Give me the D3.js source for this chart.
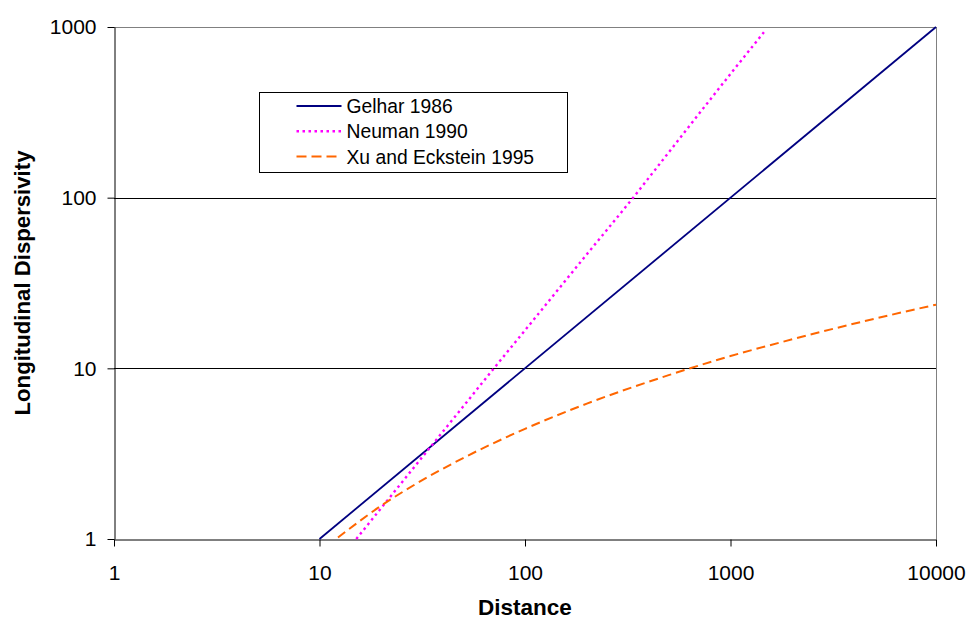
<!DOCTYPE html>
<html>
<head>
<meta charset="utf-8" />
<script src="https://cdn.jsdelivr.net/npm/d3@7"></script>
<style>
  body { margin: 0; background: #fff; }
  text { font-family: "Liberation Sans", Arial, sans-serif; fill: #000; }
</style>
</head>
<body>
<div id="chart"></div>
<script>
// Tick labels
var xTicks = [1, 10, 100, 1000, 10000];
var yTicks = [1, 10, 100, 1000];

// Gelhar 1986
var gelharDist = [10, 10000];
var gelharDisp = [1, 1000];

// Neuman 1990
var neumanDist = [15.1, 30, 50, 70.6, 100, 200, 336, 500, 1000, 1460];
var neumanDisp = [1.0, 2.79, 5.97, 10, 16.7, 46.6, 100, 184, 531, 937];

// Xu and Eckstein 1995
var xuDist = [12.3, 20, 30, 50, 100, 200, 500, 1000, 2000, 5000, 10000];
var xuDisp = [1.02, 1.57, 2.13, 2.98, 4.42, 6.21, 9.12, 11.8, 14.8, 19.5, 23.6];

var seriesNames = ["Gelhar 1986", "Neuman 1990", "Xu and Eckstein 1995"];

var width = 969, height = 619;
var plotL = 114, plotR = 936, plotT = 27, plotB = 539;

var x = d3.scaleLog().domain([1, 10000]).range([plotL, plotR]);
var y = d3.scaleLog().domain([1, 1000]).range([plotB, plotT]);

var svg = d3.select('#chart')
    .append('svg')
    .attr('width', width)
    .attr('height', height);

// gridlines
svg.append('g')
    .selectAll('line')
    .data([10, 100])
    .enter()
    .append('line')
    .attr('x1', plotL).attr('x2', plotR)
    .attr('y1', function (d) { return Math.round(y(d)) + 0.5; })
    .attr('y2', function (d) { return Math.round(y(d)) + 0.5; })
    .attr('stroke', '#000')
    .attr('stroke-width', 1);

// frame: top and right are gray
svg.append('line')
    .attr('x1', plotL).attr('x2', plotR + 0.5)
    .attr('y1', plotT + 0.5).attr('y2', plotT + 0.5)
    .attr('stroke', '#808080');
svg.append('line')
    .attr('x1', plotR + 0.5).attr('x2', plotR + 0.5)
    .attr('y1', plotT).attr('y2', plotB)
    .attr('stroke', '#808080');

// axes
var xAxis = d3.axisBottom(x)
    .tickValues(xTicks)
    .tickFormat(d3.format('d'))
    .tickSizeInner(7)
    .tickSizeOuter(0)
    .tickPadding(19);

var yAxis = d3.axisLeft(y)
    .tickValues(yTicks)
    .tickFormat(d3.format('d'))
    .tickSizeInner(7)
    .tickSizeOuter(0)
    .tickPadding(11);

var gx = svg.append('g')
    .attr('transform', 'translate(0,' + (plotB + 0.5) + ')')
    .call(xAxis);
var gy = svg.append('g')
    .attr('transform', 'translate(' + (plotL + 0.5) + ',0)')
    .call(yAxis);

[gx, gy].forEach(function (g) {
    g.attr('font-family', '"Liberation Sans", Arial, sans-serif').attr('font-size', 21);
    g.selectAll('path.domain').attr('stroke', '#000').attr('stroke-width', 1);
    g.selectAll('.tick line').attr('stroke', '#000');
    g.selectAll('.tick text').attr('fill', '#000');
});

// series lines
var line = d3.line()
    .x(function (d) { return x(d[0]); })
    .y(function (d) { return y(d[1]); })
    .curve(d3.curveMonotoneX);

var series = [
    { name: seriesNames[0], pts: d3.zip(gelharDist, gelharDisp), color: '#000080', dash: null, w: 1.8 },
    { name: seriesNames[1], pts: d3.zip(neumanDist, neumanDisp), color: '#FF00FF', dash: '2.5,3.5', w: 2.4 },
    { name: seriesNames[2], pts: d3.zip(xuDist, xuDisp), color: '#FF6600', dash: '9,5', w: 2 }
];

svg.append('g')
    .selectAll('path')
    .data(series)
    .enter()
    .append('path')
    .attr('d', function (d) { return line(d.pts); })
    .attr('fill', 'none')
    .attr('stroke', function (d) { return d.color; })
    .attr('stroke-width', function (d) { return d.w; })
    .attr('stroke-dasharray', function (d) { return d.dash; });

// legend
var legend = svg.append('g').attr('transform', 'translate(259.5,92.5)');
legend.append('rect')
    .attr('width', 308).attr('height', 80)
    .attr('fill', '#fff')
    .attr('stroke', '#000')
    .attr('stroke-width', 1);

var rows = legend.selectAll('g.row')
    .data(series)
    .enter()
    .append('g')
    .attr('class', 'row')
    .attr('transform', function (d, i) { return 'translate(0,' + (13.5 + i * 25.3) + ')'; });

rows.append('line')
    .attr('x1', 37).attr('x2', 82)
    .attr('stroke', function (d) { return d.color; })
    .attr('stroke-width', function (d) { return d.w; })
    .attr('stroke-dasharray', function (d) { return d.dash === '9,5' ? '10,5' : d.dash; });

rows.append('text')
    .attr('x', 87)
    .attr('y', 7)
    .attr('font-size', 19.3)
    .text(function (d) { return d.name; });

// axis titles
svg.append('text')
    .attr('x', (plotL + plotR) / 2)
    .attr('y', 615)
    .attr('text-anchor', 'middle')
    .attr('font-size', 22.5)
    .attr('font-weight', 'bold')
    .text('Distance');

svg.append('text')
    .attr('transform', 'translate(30,' + ((plotT + plotB) / 2) + ') rotate(-90)')
    .attr('text-anchor', 'middle')
    .attr('font-size', 22.2)
    .attr('font-weight', 'bold')
    .text('Longitudinal Dispersivity');
</script>
</body>
</html>
